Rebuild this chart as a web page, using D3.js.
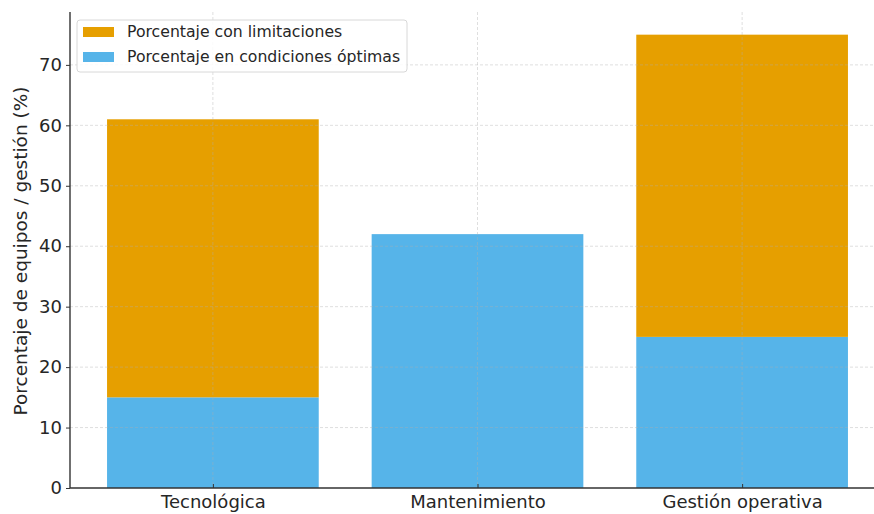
<!DOCTYPE html>
<html>
<head>
<meta charset="utf-8">
<script src="https://cdn.jsdelivr.net/npm/d3@7"></script>
<style>
  body { margin: 0; background: #fff; }
  text { font-family: "DejaVu Sans", sans-serif; }
</style>
</head>
<body>
<div id="chart"></div>
<script>
const categories = ["Tecnológica", "Mantenimiento", "Gestión operativa"];
const optimas = [15, 42, 25];
const limitaciones = [46, 0, 50];
const yTicks = [0, 10, 20, 30, 40, 50, 60, 70];
const seriesNames = ["Porcentaje con limitaciones", "Porcentaje en condiciones óptimas"];
const colors = {optimas: "#56B4E9", limitaciones: "#E69F00"};

const width = 874, height = 514;
const margin = {left: 70, top: 12, bottom: 26};

const svg = d3.select("#chart").append("svg")
  .attr("width", width).attr("height", height);

// category index scale, matplotlib style limits
const x = d3.scaleLinear().domain([-0.54, 2.54]).range([margin.left, 885]);
const y = d3.scaleLinear().domain([0, 78.75]).range([height - margin.bottom, margin.top]);
const bw = x(0.4) - x(-0.4);

const rows = categories.map((c, i) => ({i, cat: c, opt: optimas[i], lim: limitaciones[i]}));

// bars
svg.append("g").selectAll("rect")
  .data(rows)
  .join("rect")
    .attr("x", d => x(d.i) - bw / 2)
    .attr("y", d => y(d.opt))
    .attr("width", bw)
    .attr("height", d => y(0) - y(d.opt))
    .attr("fill", colors.optimas);

svg.append("g").selectAll("rect")
  .data(rows.filter(d => d.lim > 0))
  .join("rect")
    .attr("x", d => x(d.i) - bw / 2)
    .attr("y", d => y(d.opt + d.lim))
    .attr("width", bw)
    .attr("height", d => y(d.opt) - y(d.opt + d.lim))
    .attr("fill", colors.limitaciones);

// grid over bars
const grid = svg.append("g")
  .attr("stroke", "#b0b0b0")
  .attr("stroke-opacity", 0.5)
  .attr("stroke-dasharray", "3 2")
  .attr("stroke-width", 0.8);

grid.selectAll(".h").data(yTicks.slice(1)).join("line")
  .attr("x1", margin.left).attr("x2", width)
  .attr("y1", d => y(d)).attr("y2", d => y(d));

grid.selectAll(".v").data(rows).join("line")
  .attr("x1", d => x(d.i)).attr("x2", d => x(d.i))
  .attr("y1", margin.top).attr("y2", y(0));

// axes
const yAxis = d3.axisLeft(y).tickValues(yTicks).tickSize(4).tickPadding(4);
const gy = svg.append("g")
  .attr("transform", `translate(${margin.left},0)`)
  .call(yAxis);
gy.select(".domain").attr("stroke", "#333").attr("stroke-width", 1.4)
  .attr("d", `M0,${y(0)}V${margin.top}`);

const xAxis = d3.axisBottom(x).tickValues(rows.map(d => d.i))
  .tickFormat(i => categories[i]).tickSize(4).tickPadding(4);
const gx = svg.append("g")
  .attr("transform", `translate(0,${y(0)})`)
  .call(xAxis);
gx.select(".domain").attr("stroke", "#333").attr("stroke-width", 1.4)
  .attr("d", `M${margin.left},0H${width}`);

svg.selectAll(".tick line").attr("stroke", "#333");
svg.selectAll(".tick text").attr("fill", "#262626").style("font-size", "18px");
gx.selectAll(".tick line").attr("y2", -4).attr("y1", 0);
gx.selectAll(".tick text").attr("y", 20).attr("dy", 0);

// y label
svg.append("text")
  .attr("transform", "translate(27,251) rotate(-90)")
  .attr("text-anchor", "middle")
  .attr("fill", "#262626")
  .style("font-size", "18.5px")
  .text("Porcentaje de equipos / gestión (%)");

// legend
const lg = svg.append("g").attr("transform", "translate(77,20)");
lg.append("rect")
  .attr("width", 330).attr("height", 52).attr("rx", 3)
  .attr("fill", "#fff").attr("fill-opacity", 0.85)
  .attr("stroke", "#d8d8d8");
const legendColors = [colors.limitaciones, colors.optimas];
const items = lg.selectAll(".item").data(seriesNames).join("g")
  .attr("transform", (d, i) => `translate(6,${7 + i * 25})`);
items.append("rect")
  .attr("width", 31).attr("height", 10)
  .attr("fill", (d, i) => legendColors[i]);
items.append("text")
  .attr("x", 44).attr("y", 10)
  .attr("fill", "#262626")
  .style("font-size", "15.7px")
  .text(d => d);
</script>
</body>
</html>
